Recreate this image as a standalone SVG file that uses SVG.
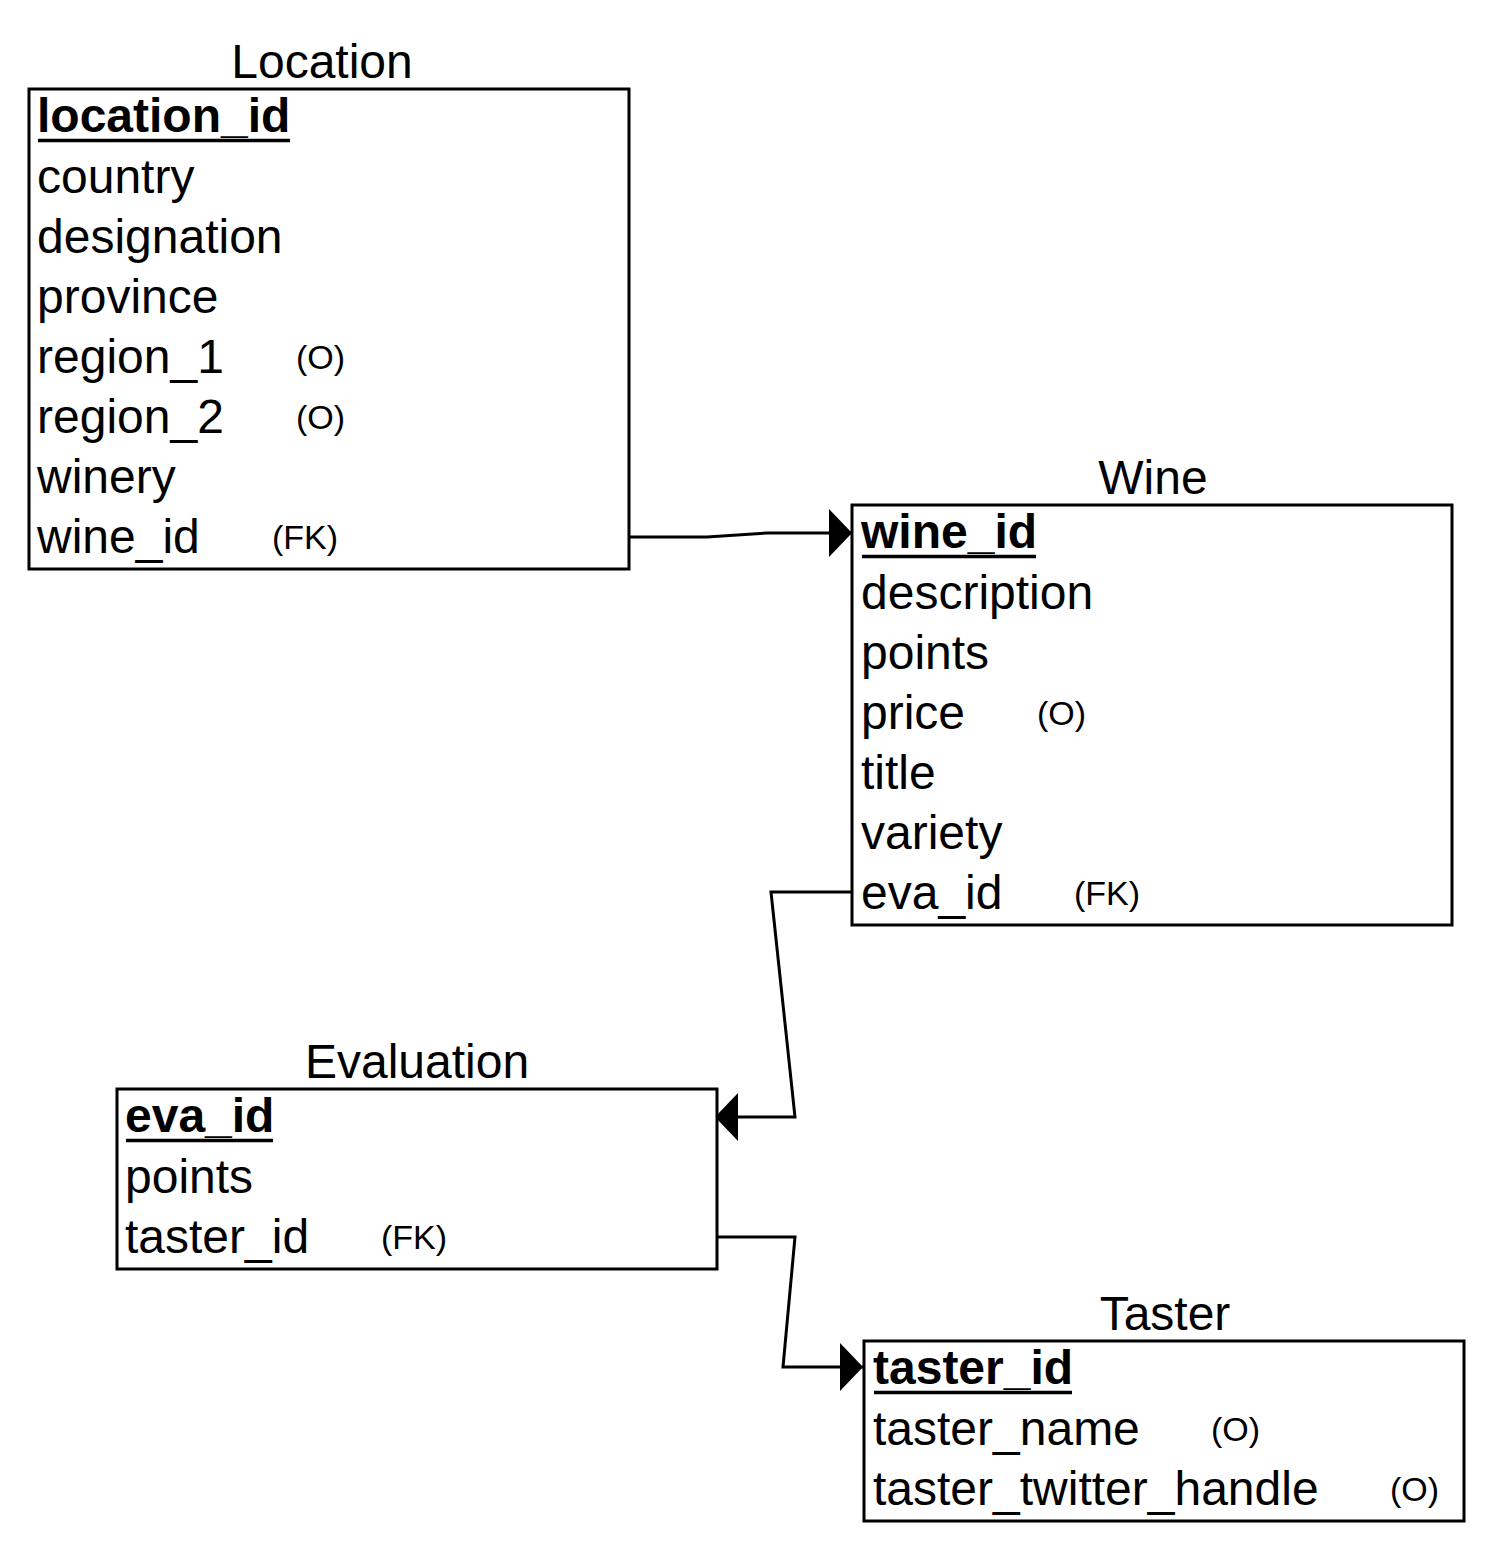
<svg xmlns="http://www.w3.org/2000/svg" width="1492" height="1548" viewBox="0 0 1492 1548">
<style>
.box{fill:#fff;stroke:#000;stroke-width:3}
.t{font-family:"Liberation Sans",Arial,sans-serif;font-size:48px;fill:#000}
.title{text-anchor:middle}
.pk{font-weight:bold}
.ul{stroke:#000;stroke-width:3.5}
.s{font-family:"Liberation Sans",Arial,sans-serif;font-size:34px;fill:#000}
.c{fill:none;stroke:#000;stroke-width:3}
</style>
<defs>
<marker id="arr" markerUnits="userSpaceOnUse" markerWidth="24" markerHeight="50" refX="23" refY="24" orient="auto" viewBox="0 0 24 48">
<path d="M0,0 L23,24 L0,48 Z" fill="#000"/>
</marker>
</defs>
<rect width="1492" height="1548" fill="#fff"/>
<g id="connectors">
<polyline class="c" points="629,537 707,537 767,533 852,533" marker-end="url(#arr)"/>
<polyline class="c" points="852,892 771,892 795,1117 715,1117" marker-end="url(#arr)"/>
<polyline class="c" points="717,1237 795,1237 783,1367 863,1367" marker-end="url(#arr)"/>
</g>
<g id="location">
<text class="t title" x="322" y="78">Location</text>
<rect class="box" x="29" y="89" width="600" height="480"/>
<text class="t pk" x="37" y="132">location_id</text>
<line class="ul" x1="38" y1="140.5" x2="290" y2="140.5"/>
<text class="t" x="37" y="193">country</text>
<text class="t" x="37" y="253">designation</text>
<text class="t" x="37" y="313">province</text>
<text class="t" x="37" y="373">region_1</text>
<text class="s" x="296" y="369">(O)</text>
<text class="t" x="37" y="433">region_2</text>
<text class="s" x="296" y="429">(O)</text>
<text class="t" x="37" y="493">winery</text>
<text class="t" x="37" y="553">wine_id</text>
<text class="s" x="272" y="549">(FK)</text>
</g>
<g id="wine">
<text class="t title" x="1153" y="494">Wine</text>
<rect class="box" x="852" y="505" width="600" height="420"/>
<text class="t pk" x="861" y="548">wine_id</text>
<line class="ul" x1="862" y1="556.5" x2="1036" y2="556.5"/>
<text class="t" x="861" y="609">description</text>
<text class="t" x="861" y="669">points</text>
<text class="t" x="861" y="729">price</text>
<text class="s" x="1037" y="725">(O)</text>
<text class="t" x="861" y="789">title</text>
<text class="t" x="861" y="849">variety</text>
<text class="t" x="861" y="909">eva_id</text>
<text class="s" x="1074" y="905">(FK)</text>
</g>
<g id="evaluation">
<text class="t title" x="417" y="1078">Evaluation</text>
<rect class="box" x="117" y="1089" width="600" height="180"/>
<text class="t pk" x="125" y="1132">eva_id</text>
<line class="ul" x1="126" y1="1140.5" x2="273" y2="1140.5"/>
<text class="t" x="125" y="1193">points</text>
<text class="t" x="125" y="1253">taster_id</text>
<text class="s" x="381" y="1249">(FK)</text>
</g>
<g id="taster">
<text class="t title" x="1165" y="1330">Taster</text>
<rect class="box" x="864" y="1341" width="600" height="180"/>
<text class="t pk" x="873" y="1384">taster_id</text>
<line class="ul" x1="874" y1="1392.5" x2="1072" y2="1392.5"/>
<text class="t" x="873" y="1445">taster_name</text>
<text class="s" x="1211" y="1441">(O)</text>
<text class="t" x="873" y="1505">taster_twitter_handle</text>
<text class="s" x="1390" y="1501">(O)</text>
</g>
</svg>
